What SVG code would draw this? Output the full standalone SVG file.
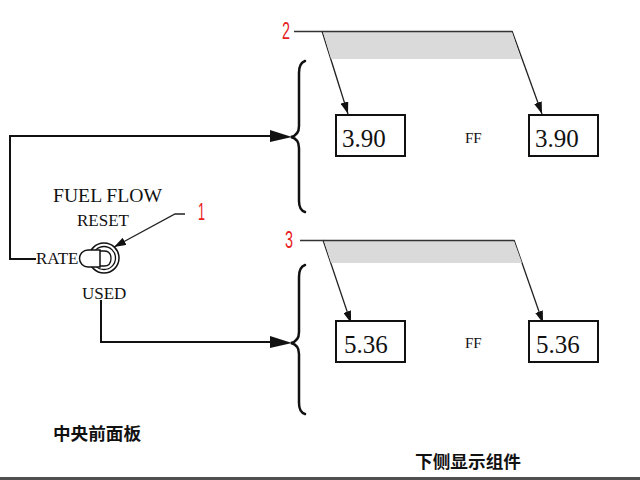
<svg xmlns="http://www.w3.org/2000/svg" width="640" height="480" viewBox="0 0 640 480">
<style>
.ser{font-family:"Liberation Serif","Times New Roman",serif;fill:#111}
.red{font-family:"Liberation Sans",Arial,sans-serif;fill:#e8201c;font-size:23px}
.cjk{font-family:"Noto Sans CJK SC","Liberation Sans",sans-serif;font-weight:bold;font-size:17px;fill:#111}
.box{fill:#fff;stroke:#111;stroke-width:2}
.ln{fill:none;stroke:#111;stroke-width:2}
.thin{fill:none;stroke:#222;stroke-width:1.3}
.brace{fill:none;stroke:#111;stroke-width:2.5;stroke-linecap:round}
.gray{fill:#dadada}
</style>
<defs>
<marker id="ah" viewBox="0 0 12 8" refX="12" refY="4" markerWidth="12" markerHeight="8" markerUnits="userSpaceOnUse" orient="auto">
<path d="M0,0 L12,4 L0,8 Z" fill="#111"/>
</marker>
</defs>
<rect width="640" height="480" fill="#fff"/>

<g id="connectors">
<path class="ln" d="M36,259 L10,259 L10,136 L278,136"/>
<path d="M270,130 L292,137 L270,142 Z" fill="#111"/>
<path class="ln" d="M101,300 L101,342 L278,342"/>
<path d="M270,336 L292,343 L270,348 Z" fill="#111"/>
<path class="thin" d="M185,214 L175,214 L114,247" marker-end="url(#ah)"/>
<path class="thin" d="M322,31 L348,114" marker-end="url(#ah)"/>
<path class="thin" d="M512,31 L542,114" marker-end="url(#ah)"/>
<path class="thin" d="M323,240 L351,323" marker-end="url(#ah)"/>
<path class="thin" d="M514,240 L543,323" marker-end="url(#ah)"/>
</g>

<g id="label-2">
<polygon class="gray" points="323,32 512,32 521,59 331,59"/>
<line x1="294" y1="31.5" x2="512" y2="31.5" stroke="#333" stroke-width="1.5"/>
<text class="red" x="282" y="39" textLength="8" lengthAdjust="spacingAndGlyphs">2</text>
</g>
<g id="label-3">
<polygon class="gray" points="324,241 514,241 522,263 331,263"/>
<line x1="300" y1="240.5" x2="514" y2="240.5" stroke="#333" stroke-width="1.5"/>
<text class="red" x="285" y="248" textLength="8" lengthAdjust="spacingAndGlyphs">3</text>
</g>
<g id="label-1">
<text class="red" x="198" y="220" textLength="7" lengthAdjust="spacingAndGlyphs">1</text>
</g>

<g id="brace-top">
<path class="brace" d="M305,61 Q299,63 299,73 L299,126 Q299,135 291,137 Q299,139 299,148 L299,201 Q299,210 305,212"/>
</g>
<g id="brace-bottom">
<path class="brace" d="M305,265 Q299,267 299,277 L299,332 Q299,341 291,343 Q299,345 299,354 L299,403 Q299,412 305,414"/>
</g>

<g id="switch">
<text class="ser" x="53" y="202" font-size="19.5" textLength="109" lengthAdjust="spacingAndGlyphs">FUEL FLOW</text>
<text class="ser" x="77" y="226" font-size="17">RESET</text>
<text class="ser" x="36" y="264" font-size="17">RATE</text>
<text class="ser" x="82" y="299" font-size="17">USED</text>
<circle cx="104" cy="258" r="15" fill="#fff" stroke="#111" stroke-width="1.5"/>
<circle cx="104" cy="258" r="11.5" fill="#fff" stroke="#111" stroke-width="1.3"/>
<path d="M100,251 L104,251 Q111,251 111,258.5 Q111,266 104,266 L100,266" fill="#fff" stroke="#111" stroke-width="1.3"/>
<path d="M88,250 L100,250 L100,267 L88,267 A8.5,8.5 0 0 1 88,250 Z" fill="#fff" stroke="#111" stroke-width="1.5"/>
</g>

<g id="display-top">
<rect class="box" x="336" y="115" width="69" height="41"/>
<text class="ser" x="342" y="147" font-size="25">3.90</text>
<text class="ser" x="465" y="143" font-size="15">FF</text>
<rect class="box" x="529" y="115" width="69" height="41"/>
<text class="ser" x="535" y="147" font-size="25">3.90</text>
</g>
<g id="display-bottom">
<rect class="box" x="336" y="321" width="69" height="41"/>
<text class="ser" x="344" y="353" font-size="25">5.36</text>
<text class="ser" x="465" y="348" font-size="15">FF</text>
<rect class="box" x="529" y="321" width="69" height="41"/>
<text class="ser" x="536" y="353" font-size="25">5.36</text>
</g>

<g id="captions">
<text class="cjk" x="53" y="440" textLength="88" lengthAdjust="spacingAndGlyphs">中央前面板</text>
<text class="cjk" x="415" y="468" textLength="106" lengthAdjust="spacingAndGlyphs">下侧显示组件</text>
</g>
<rect x="0" y="477" width="640" height="3" fill="#505050"/>
</svg>
